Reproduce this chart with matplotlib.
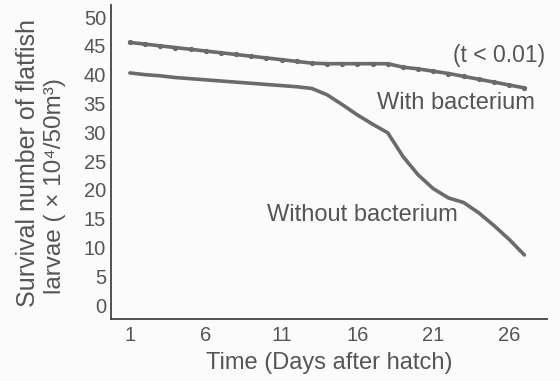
import matplotlib.pyplot as plt

# days after hatch
days = list(range(1, 28))

# survival number (x10^4 / 50 m^3)
with_bacterium = [45.6, 45.3, 45.0, 44.7, 44.4, 44.1, 43.8, 43.5, 43.2, 42.9,
                  42.6, 42.3, 42.0, 41.9, 41.9, 41.9, 41.9, 41.9, 41.3, 41.0,
                  40.6, 40.2, 39.7, 39.2, 38.7, 38.2, 37.7]
without_bacterium = [40.3, 40.0, 39.8, 39.5, 39.3, 39.1, 38.9, 38.7, 38.5, 38.3,
                     38.1, 37.9, 37.6, 36.5, 34.8, 33.0, 31.4, 29.9, 25.8, 22.6,
                     20.2, 18.6, 17.8, 16.0, 13.8, 11.4, 8.7]

xticks = [1, 6, 11, 16, 21, 26]
yticks = list(range(0, 51, 5))

line_col = "#6b6b6b"
text_col = "#555555"

plt.rcParams['font.family'] = ['Liberation Sans', 'DejaVu Sans']

fig = plt.figure(figsize=(5.6, 3.81), dpi=100, facecolor="#fbfbfb")
ax = fig.add_axes([0.198, 0.163, 0.779, 0.824])
ax.set_facecolor("#fbfbfb")

ax.plot(days, with_bacterium, color=line_col, linewidth=2.6,
        marker='o', markersize=2.8, solid_capstyle='round')
ax.plot(days, without_bacterium, color=line_col, linewidth=2.6,
        solid_capstyle='round')

ax.set_xlim(-0.25, 28.5)
ax.set_ylim(-2.4, 52.1)
ax.set_xticks(xticks)
ax.set_yticks(yticks)
ax.tick_params(length=0, labelsize=14.5, colors=text_col)
ax.tick_params(axis='x', pad=5)
ax.tick_params(axis='y', pad=3.5)

for side in ['top', 'right']:
    ax.spines[side].set_visible(False)
for side in ['left', 'bottom']:
    ax.spines[side].set_color("#444444")
    ax.spines[side].set_linewidth(1.3)

ax.set_xlabel('Time (Days after hatch)', fontsize=17, color=text_col, labelpad=5)

# two-line y label, second line sits a little lower like the original
fig.text(0.05, 0.572, 'Survival number of flatfish', rotation=90,
         fontsize=18, color=text_col, ha='center', va='center')
fig.text(0.098, 0.512, 'larvae ( \u00d7 10\u2074/50m\u00b3)', rotation=90,
         fontsize=17.5, color=text_col, ha='center', va='center')

ax.text(25.3, 43.4, '(t < 0.01)', fontsize=16.5, color=text_col,
        ha='center', va='center')
ax.text(22.5, 35.1, 'With bacterium', fontsize=17, color=text_col,
        ha='center', va='center')
ax.text(16.3, 15.6, 'Without bacterium', fontsize=17, color=text_col,
        ha='center', va='center')

fig.savefig('out.png', dpi=100, facecolor=fig.get_facecolor())
